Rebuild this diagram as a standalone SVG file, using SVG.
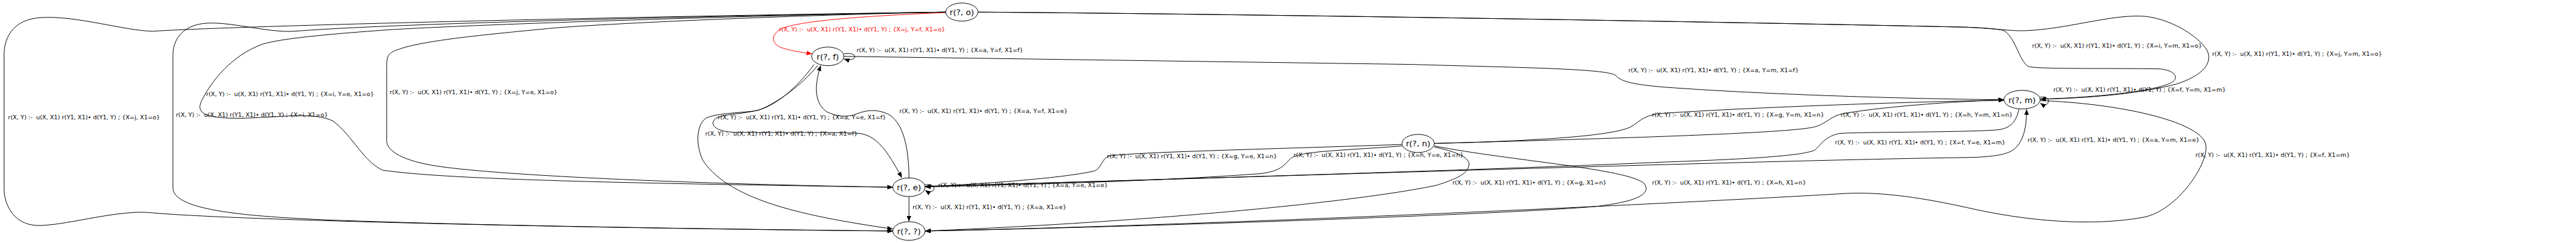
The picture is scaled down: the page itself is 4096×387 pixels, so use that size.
<svg xmlns="http://www.w3.org/2000/svg" width="4096" height="387" viewBox="0 0 4096 387">
<defs>
<style>
.nd ellipse{fill:none;stroke:#000;stroke-width:1.2}
.nd text{font-family:"DejaVu Sans",sans-serif;font-size:16.3px;text-anchor:middle;fill:#000}
.ed path{fill:none;stroke:#000;stroke-width:1.2}
.ed path.red{stroke:#ff0000}
.lb{font-family:"DejaVu Sans",sans-serif;font-size:11.7px;fill:#000;white-space:pre}
.lb.red{fill:#ff0000}
</style>
<marker id="ah" markerUnits="userSpaceOnUse" markerWidth="11" markerHeight="9" refX="11" refY="4.5" orient="auto"><path d="M0,0 L11,4.5 L0,9 z" fill="#000"/></marker>
<marker id="ahr" markerUnits="userSpaceOnUse" markerWidth="11" markerHeight="9" refX="11" refY="4.5" orient="auto"><path d="M0,0 L11,4.5 L0,9 z" fill="#ff0000"/></marker>
</defs>
<rect width="4096" height="387" fill="#fff"/>
<g transform="scale(0.8016)">
<g id="connectors" class="ed">
<path class="red" marker-end="url(#ahr)" d="M1876,25 C1760,30 1600,38 1552,56 C1528,68 1530,86 1548,94 C1568,101 1590,104 1611,107"/>
<path marker-end="url(#ah)" d="M1876,24 C1300,32 500,50 304,62 C250,62 150,30 81,35 C30,38 8,70 8,110 L8,373 C8,410 30,450 81,448 C140,446 240,415 304,423 C500,440 1300,455 1771,459"/>
<path marker-end="url(#ah)" d="M1876,24 C1500,30 800,45 585,62 C530,66 450,40 401,47 C360,53 343,80 343,110 L343,373 C343,420 500,430 650,437 C1000,450 1500,456 1771,459"/>
<path marker-end="url(#ah)" d="M1876,24 C1500,30 900,50 759,60 C680,66 560,75 520,88 C460,110 420,160 400,200 C385,230 420,235 477,235 C560,233 620,222 660,240 C700,270 720,320 759,338 C900,360 1400,366 1771,372"/>
<path marker-end="url(#ah)" d="M1876,24 C1500,32 1150,50 1084,57 C950,70 850,80 800,95 C775,103 767,105 767,130 L767,280 C767,300 800,320 867,330 C1000,350 1400,366 1771,372"/>
<path marker-end="url(#ah)" d="M1940,24 C2500,28 3500,45 3900,54 C3950,56 3970,58 3977,62 C4000,80 4005,120 4023,132 C4040,138 4200,135 4286,137 C4310,140 4320,150 4313,160 C4300,175 4200,192 4047,197"/>
<path marker-end="url(#ah)" d="M1940,24 C2500,28 3500,45 3900,54 C3950,56 3990,62 4016,61 C4100,58 4180,30 4247,32 C4300,34 4360,70 4378,100 C4390,125 4370,150 4317,167 C4250,185 4150,195 4047,197"/>
<path marker-end="url(#ah)" d="M1674,107 C1696,103 1701,115 1690,118 C1685,119 1680,119 1674,117"/>
<path marker-end="url(#ah)" d="M1674,112 L2800,128 C3000,134 3190,136 3205,150 C3215,162 3240,168 3300,173 C3500,188 3800,197 3975,198"/>
<path marker-end="url(#ah)" d="M1622,130 C1590,170 1540,205 1507,218 C1470,228 1440,225 1420,235 C1405,248 1420,262 1460,263 C1550,264 1650,262 1705,265 C1740,270 1760,300 1789,353"/>
<path marker-end="url(#ah)" d="M1615,128 C1580,175 1540,210 1500,220 C1460,225 1420,225 1400,235 C1380,250 1380,290 1395,320 C1450,400 1600,430 1771,455"/>
<path marker-end="url(#ah)" d="M1803,354 C1803,290 1790,240 1760,226 C1740,217 1720,218 1700,226 C1680,234 1660,232 1640,222 C1615,205 1615,170 1628,130"/>
<path marker-end="url(#ah)" d="M1835,367 C1856,364 1857,379 1846,381 C1842,382 1838,380 1835,378"/>
<path marker-end="url(#ah)" d="M1803,391 L1803,440"/>
<path marker-end="url(#ah)" d="M1835,370 C2300,358 3500,318 3900,313 C3950,312 3975,308 3990,300 C4015,285 4020,250 4020,217"/>
<path marker-end="url(#ah)" d="M4047,193 C4066,190 4067,205 4058,208 C4054,209 4050,207 4047,205"/>
<path marker-end="url(#ah)" d="M4005,216 C4000,240 3990,255 3962,258 C3900,263 3700,262 3650,265 C3620,270 3610,290 3600,298 C3580,308 3500,315 3300,322 C2900,340 2100,362 1835,371"/>
<path marker-end="url(#ah)" d="M4047,200 C4200,205 4360,240 4375,285 C4385,320 4320,420 4250,432 C4150,450 4020,440 3900,412 C3800,390 3720,380 3650,385 C3400,400 2500,445 1835,459"/>
<path marker-end="url(#ah)" d="M2845,285 C3050,280 3200,270 3235,252 C3255,240 3260,228 3300,225 C3500,212 3800,202 3975,199"/>
<path marker-end="url(#ah)" d="M2845,285 C3200,275 3550,265 3600,252 C3625,245 3630,230 3660,225 C3750,210 3900,200 3975,199"/>
<path marker-end="url(#ah)" d="M2781,287 C2500,297 2250,302 2200,310 C2185,315 2185,335 2170,340 C2100,355 1950,365 1835,371"/>
<path marker-end="url(#ah)" d="M2781,290 C2650,300 2580,300 2560,315 C2545,330 2540,340 2500,345 C2300,360 2000,368 1835,371"/>
<path marker-end="url(#ah)" d="M2845,292 C2880,300 2915,310 2914,327 C2912,345 2890,355 2850,368 C2700,400 2300,440 1835,459"/>
<path marker-end="url(#ah)" d="M2845,290 C3000,320 3230,335 3262,365 C3275,385 3250,400 3167,410 C3000,425 2300,450 1835,459"/>
</g>
<g id="edge-labels">
<text class="lb red" x="1545" y="62">r(X, Y) :-  u(X, X1) r(Y1, X1)• d(Y1, Y) ; {X=j, Y=f, X1=o}</text>
<text class="lb" x="16" y="237">r(X, Y) :-  u(X, X1) r(Y1, X1)• d(Y1, Y) ; {X=j, X1=o}</text>
<text class="lb" x="349" y="232">r(X, Y) :-  u(X, X1) r(Y1, X1)• d(Y1, Y) ; {X=i, X1=o}</text>
<text class="lb" x="409" y="191">r(X, Y) :-  u(X, X1) r(Y1, X1)• d(Y1, Y) ; {X=i, Y=e, X1=o}</text>
<text class="lb" x="773" y="187">r(X, Y) :-  u(X, X1) r(Y1, X1)• d(Y1, Y) ; {X=j, Y=e, X1=o}</text>
<text class="lb" x="1699" y="104">r(X, Y) :-  u(X, X1) r(Y1, X1)• d(Y1, Y) ; {X=a, Y=f, X1=f}</text>
<text class="lb" x="1424" y="237">r(X, Y) :-  u(X, X1) r(Y1, X1)• d(Y1, Y) ; {X=a, Y=e, X1=f}</text>
<text class="lb" x="1399" y="269">r(X, Y) :-  u(X, X1) r(Y1, X1)• d(Y1, Y) ; {X=a, X1=f}</text>
<text class="lb" x="1784" y="225">r(X, Y) :-  u(X, X1) r(Y1, X1)• d(Y1, Y) ; {X=a, Y=f, X1=e}</text>
<text class="lb" x="1861" y="372">r(X, Y) :-  u(X, X1) r(Y1, X1)• d(Y1, Y) ; {X=a, Y=e, X1=e}</text>
<text class="lb" x="1810" y="416">r(X, Y) :-  u(X, X1) r(Y1, X1)• d(Y1, Y) ; {X=a, X1=e}</text>
<text class="lb" x="2196" y="314">r(X, Y) :-  u(X, X1) r(Y1, X1)• d(Y1, Y) ; {X=g, Y=e, X1=n}</text>
<text class="lb" x="2566" y="312">r(X, Y) :-  u(X, X1) r(Y1, X1)• d(Y1, Y) ; {X=h, Y=e, X1=n}</text>
<text class="lb" x="2881" y="367">r(X, Y) :-  u(X, X1) r(Y1, X1)• d(Y1, Y) ; {X=g, X1=n}</text>
<text class="lb" x="3277" y="367">r(X, Y) :-  u(X, X1) r(Y1, X1)• d(Y1, Y) ; {X=h, X1=n}</text>
<text class="lb" x="3230" y="144">r(X, Y) :-  u(X, X1) r(Y1, X1)• d(Y1, Y) ; {X=a, Y=m, X1=f}</text>
<text class="lb" x="3277" y="232">r(X, Y) :-  u(X, X1) r(Y1, X1)• d(Y1, Y) ; {X=g, Y=m, X1=n}</text>
<text class="lb" x="3651" y="232">r(X, Y) :-  u(X, X1) r(Y1, X1)• d(Y1, Y) ; {X=h, Y=m, X1=n}</text>
<text class="lb" x="3640" y="287">r(X, Y) :-  u(X, X1) r(Y1, X1)• d(Y1, Y) ; {X=f, Y=e, X1=m}</text>
<text class="lb" x="4031" y="95">r(X, Y) :-  u(X, X1) r(Y1, X1)• d(Y1, Y) ; {X=i, Y=m, X1=o}</text>
<text class="lb" x="4388" y="111">r(X, Y) :-  u(X, X1) r(Y1, X1)• d(Y1, Y) ; {X=j, Y=m, X1=o}</text>
<text class="lb" x="4073" y="182">r(X, Y) :-  u(X, X1) r(Y1, X1)• d(Y1, Y) ; {X=f, Y=m, X1=m}</text>
<text class="lb" x="4022" y="282">r(X, Y) :-  u(X, X1) r(Y1, X1)• d(Y1, Y) ; {X=a, Y=m, X1=e}</text>
<text class="lb" x="4355" y="312">r(X, Y) :-  u(X, X1) r(Y1, X1)• d(Y1, Y) ; {X=f, X1=m}</text>
</g>
<g id="node-o" class="nd"><ellipse cx="1908" cy="24" rx="32" ry="18"/><text x="1908" y="30">r(?, o)</text></g>
<g id="node-f" class="nd"><ellipse cx="1642" cy="112" rx="32" ry="18.5"/><text x="1642" y="118">r(?, f)</text></g>
<g id="node-m" class="nd"><ellipse cx="4011" cy="198" rx="36" ry="18.5"/><text x="4011" y="204">r(?, m)</text></g>
<g id="node-n" class="nd"><ellipse cx="2813" cy="285" rx="32" ry="18"/><text x="2813" y="291">r(?, n)</text></g>
<g id="node-e" class="nd"><ellipse cx="1803" cy="372" rx="32" ry="18.5"/><text x="1803" y="378">r(?, e)</text></g>
<g id="node-q" class="nd"><ellipse cx="1803" cy="459" rx="32" ry="18.5"/><text x="1803" y="465">r(?, ?)</text></g>
</g>
</svg>
